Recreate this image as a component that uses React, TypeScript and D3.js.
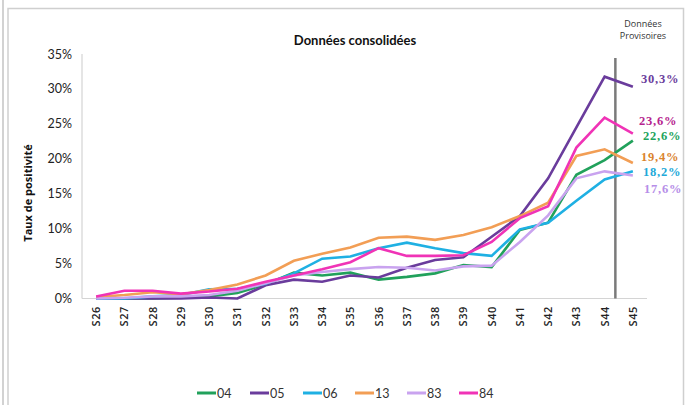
import React from "react";
import * as d3 from "d3";

const weeks = ["S26","S27","S28","S29","S30","S31","S32","S33","S34","S35","S36","S37","S38","S39","S40","S41","S42","S43","S44","S45"];
const yTicks = [0, 5, 10, 15, 20, 25, 30, 35];
const seriesNames = ["04", "05", "06", "13", "83", "84"];
const d04 = [0, 0, 0, 0.1, 0.3, 0.8, 2.0, 3.7, 3.3, 3.7, 2.7, 3.1, 3.6, 4.8, 4.5, 9.8, 10.85, 17.7, 19.8, 22.6];
const d05 = [0, 0, 0, 0, 0.15, 0, 1.9, 2.7, 2.4, 3.3, 3.0, 4.4, 5.5, 5.9, 8.85, 11.8, 17.2, 24.5, 31.75, 30.3];
const d06 = [0, 0, 0.3, 0.5, 1.3, 1.4, 2.1, 3.6, 5.7, 6.0, 7.2, 8.0, 7.2, 6.5, 6.1, 9.9, 10.85, 14.0, 17.05, 18.2];
const d13 = [0.2, 0.5, 0.9, 0.6, 1.2, 2.0, 3.3, 5.4, 6.4, 7.3, 8.7, 8.85, 8.4, 9.1, 10.2, 11.8, 13.7, 20.4, 21.35, 19.4];
const d83 = [0, 0.1, 0.3, 0.3, 0.5, 1.1, 2.2, 3.3, 3.8, 4.2, 4.5, 4.4, 4.0, 4.6, 4.7, 8.1, 11.9, 17.2, 18.2, 17.6];
const d84 = [0.3, 1.1, 1.1, 0.7, 1.0, 1.4, 2.4, 3.3, 4.2, 5.2, 7.2, 6.1, 6.1, 6.2, 8.1, 11.5, 13.2, 21.6, 25.9, 23.6];
const endLabels = ["22,6%", "30,3%", "18,2%", "19,4%", "17,6%", "23,6%"];

const allData = [d04, d05, d06, d13, d83, d84];
const lineColors = ["#21a15b", "#6a3c9c", "#1fb0e3", "#f29e55", "#c9a3ef", "#f033b6"];
const labelColors = ["#22a35c", "#6a3c9c", "#22a9d9", "#da842e", "#b68ee8", "#b5238e"];
const labelDy = [-1, -4, 5, -2, 17, -9];
const labelDx = [10, 8, 10, 8, 11, 6];

export default function App() {
  const W = 692, H = 405;
  const x = d3.scalePoint<string>().domain(weeks).range([82, 647]).padding(0.5);
  const y = d3.scaleLinear().domain([0, 35]).range([298.5, 54]);
  const line = d3.line<number>().x((_, i) => x(weeks[i]) as number).y(d => y(d));
  const step = x.step();
  const vx = (x("S44") as number) + step * 0.38;
  const legendX = [197, 250, 303, 355, 407, 459];

  return (
    <svg width={W} height={H} style={{ position: "absolute", left: 0, top: 0, background: "#fff" }}
      fontFamily="Lato, 'Open Sans', sans-serif">
      <rect x={0} y={0} width={W} height={H} fill="#fff" />
      <line x1={3} x2={3} y1={0} y2={H} stroke="#d2d2d2" strokeWidth={2} />
      <rect x={8} y={8.5} width={675.5} height={420} fill="none" stroke="#cfcfcf" strokeWidth={1.5} />

      <text x={355} y={45} textAnchor="middle" fontSize={13} fontWeight="bold" fill="#111">Données consolidées</text>
      <text x={643} y={27} textAnchor="middle" fontSize={9} fill="#333" fontFamily="'Open Sans', sans-serif">Données</text>
      <text x={643} y={39} textAnchor="middle" fontSize={9} fill="#333" fontFamily="'Open Sans', sans-serif">Provisoires</text>

      <text transform={`translate(32,${193}) rotate(-90)`} textAnchor="middle" fontSize={11} fontWeight="bold" fill="#111"
        fontFamily="'Open Sans', sans-serif">Taux de positivité</text>

      {yTicks.map(t => (
        <text key={t} x={72} y={y(t) + 4.5} textAnchor="end" fontSize={12.5} fill="#222">{t}%</text>
      ))}

      <line x1={82} x2={82} y1={54} y2={298.5} stroke="#d4d4d4" strokeWidth={1.2} />
      <line x1={82} x2={647} y1={298.5} y2={298.5} stroke="#d4d4d4" strokeWidth={1.2} />

      {weeks.map(w => (
        <text key={w} transform={`translate(${(x(w) as number) + 4},306) rotate(-90)`} textAnchor="end" fontSize={11}
          fill="#222" fontWeight={600} fontFamily="'Open Sans', sans-serif" letterSpacing={0.6}>{w}</text>
      ))}

      <line x1={vx} x2={vx} y1={58} y2={298.5} stroke="#7a7a7a" strokeWidth={2.5} />

      {allData.map((d, i) => (
        <path key={seriesNames[i]} d={line(d) as string} fill="none" stroke={lineColors[i]} strokeWidth={2.6}
          strokeLinejoin="miter" />
      ))}

      {allData.map((d, i) => (
        <text key={"l" + i} x={(x("S45") as number) + labelDx[i]} y={y(d[d.length - 1]) + labelDy[i]}
          fontSize={12.5} fontWeight="bold" fill={labelColors[i]} letterSpacing={0.8}
          fontFamily="'Liberation Serif', serif">{endLabels[i]}</text>
      ))}

      {seriesNames.map((n, i) => (
        <g key={"lg" + n}>
          <line x1={legendX[i]} x2={legendX[i] + 19} y1={393} y2={393} stroke={lineColors[i]} strokeWidth={3} />
          <text x={legendX[i] + 20} y={397.5} fontSize={12.5} fill="#333">{n}</text>
        </g>
      ))}
    </svg>
  );
}
